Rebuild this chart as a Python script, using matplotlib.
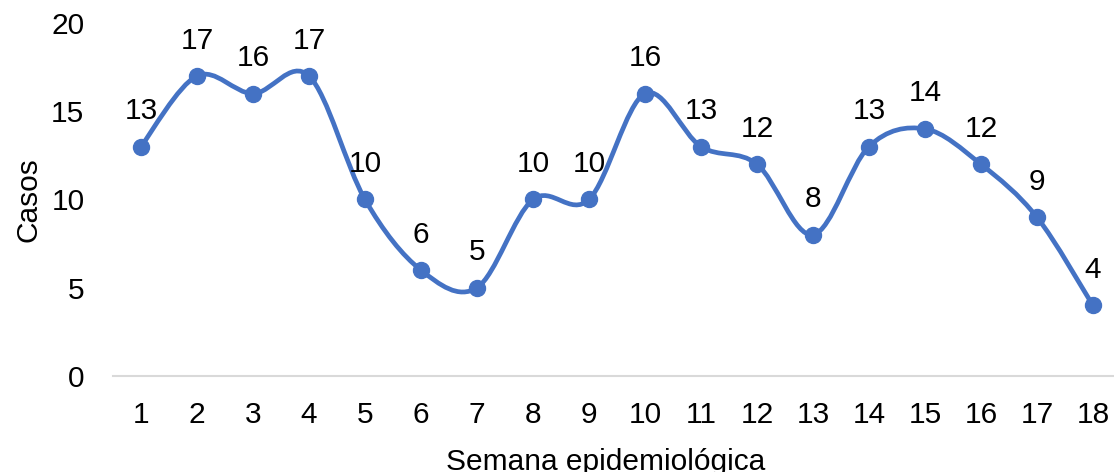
#!/usr/bin/env python3
"""Casos por semana epidemiológica (línea suavizada con etiquetas)."""

import matplotlib

matplotlib.use("Agg")
import matplotlib.pyplot as plt
from matplotlib.path import Path
from matplotlib.patches import PathPatch

semanas = list(range(1, 19))
casos = [13, 17, 16, 17, 10, 6, 5, 10, 10, 16, 13, 12, 8, 13, 14, 12, 9, 4]

LINE = "#4472C4"
FS = 21.5
plt.rcParams["font.family"] = ["Liberation Sans", "DejaVu Sans"]


def smooth_path(xs, ys):
    # Excel-style smoothing: cubic Bezier segments with Catmull-Rom control points
    n = len(xs)
    verts = [(xs[0], ys[0])]
    codes = [Path.MOVETO]
    for i in range(n - 1):
        i0 = max(i - 1, 0)
        i3 = min(i + 2, n - 1)
        c1 = (xs[i] + (xs[i + 1] - xs[i0]) / 6, ys[i] + (ys[i + 1] - ys[i0]) / 6)
        c2 = (xs[i + 1] - (xs[i3] - xs[i]) / 6, ys[i + 1] - (ys[i3] - ys[i]) / 6)
        verts += [c1, c2, (xs[i + 1], ys[i + 1])]
        codes += [Path.CURVE4] * 3
    return Path(verts, codes)


fig = plt.figure(figsize=(11.14, 4.72), dpi=100)
ax = fig.add_axes([0.1014, 0.2034, 0.9048, 0.7479])

ax.add_patch(PathPatch(smooth_path(semanas, casos), facecolor="none",
                       edgecolor=LINE, lw=3.4, capstyle="round", zorder=3))
ax.plot(semanas, casos, ls="none", marker="o", ms=11.5, color=LINE, zorder=4)

for x, y in zip(semanas, casos):
    ax.annotate(str(y), (x, y), xytext=(0, 25.5), textcoords="offset points",
                ha="center", va="center", fontsize=FS, color="black")

ax.set_xlim(0.5, 18.5)
ax.set_ylim(0, 20)
ax.set_xticks(semanas)
ax.set_yticks([0, 5, 10, 15, 20])
ax.tick_params(axis="x", length=0, pad=18, labelsize=FS)
ax.tick_params(axis="y", length=0, pad=20.5, labelsize=FS)
for side in ("top", "right", "left"):
    ax.spines[side].set_visible(False)
ax.spines["bottom"].set_color("#d9d9d9")
ax.spines["bottom"].set_linewidth(1.5)

fig.text(28 / 1114, (472 - 200) / 472, "Casos", rotation=90,
         ha="center", va="center", fontsize=FS)
fig.text(606 / 1114, (472 - 462) / 472, "Semana epidemiológica",
         ha="center", va="center", fontsize=FS)

fig.savefig("out.png", dpi=100)
plt.close(fig)
